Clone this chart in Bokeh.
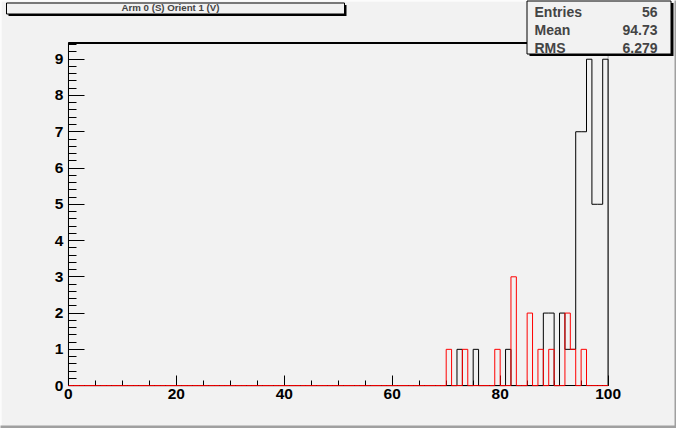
import numpy as np
from bokeh.plotting import figure
from bokeh.models import Range1d, SingleIntervalTicker, Label, BoxAnnotation
from bokeh.embed import file_html
from bokeh.resources import INLINE

# ---------------- data ----------------
title_text = "Arm 0 (S) Orient 1 (V)"
black_bins = [72, 75, 81, 88, 89, 91, 92, 93, 94, 95, 96, 97, 98, 99]
black_counts = [1, 1, 1, 2, 2, 2, 1, 1, 7, 7, 9, 5, 5, 9]
red_bins = [70, 73, 79, 82, 85, 87, 89, 92, 93, 95]
red_counts = [1, 1, 1, 3, 2, 1, 1, 2, 1, 1]
stat_names = ["Entries", "Mean", "RMS"]
stat_values = ["56", "94.73", "6.279"]
x_lo, x_hi, n_bins = 0, 100, 100
y_max = 9.45

# ---------------- layout (pixels) ----------------
BG = "#f2f2f2"
FONT = "Liberation Sans"
W, H = 676, 428
FRAME_L, FRAME_R = 67.9, 607.6     # pixel of x_lo / x_hi
FRAME_T, FRAME_B = 42.4, 385.1     # pixel of y_max / 0

dx = (x_hi - x_lo) / (FRAME_R - FRAME_L)
dy = y_max / (FRAME_B - FRAME_T)
xr = Range1d(x_lo - FRAME_L * dx, x_hi + (W - FRAME_R) * dx)
yr = Range1d(0 - (H - FRAME_B) * dy, y_max + FRAME_T * dy)


def X(px):
    return xr.start + px * dx


def Y(py):
    return yr.end - py * dy


edges = np.linspace(x_lo, x_hi, n_bins + 1)
bin_w = (x_hi - x_lo) / n_bins


def outline(bins, counts):
    h = np.zeros(n_bins + 1)
    for b, c in zip(bins, counts):
        h[int(round((b - x_lo) / bin_w))] = c
    return edges, h


p = figure(width=W, height=H, x_range=xr, y_range=yr,
           output_backend="svg", toolbar_location=None, min_border=0,
           background_fill_color=BG, border_fill_color=BG,
           outline_line_color=None)
p.grid.visible = False
p.title.visible = False

p.xaxis.ticker = SingleIntervalTicker(interval=20, num_minor_ticks=4)
p.yaxis.ticker = SingleIntervalTicker(interval=1, num_minor_ticks=5)
p.xaxis.fixed_location = 0
p.yaxis.fixed_location = x_lo
p.xaxis.bounds = (x_lo, x_hi)
p.yaxis.bounds = (0, y_max)
for ax in (p.xaxis[0], p.yaxis[0]):
    ax.major_tick_out = 0
    ax.minor_tick_out = 0
    ax.axis_line_color = "black"
    ax.major_tick_line_color = "black"
    ax.minor_tick_line_color = "black"
    ax.major_label_text_font = FONT
    ax.major_label_text_font_style = "bold"
    ax.major_label_text_font_size = "15.5px"
    ax.major_label_text_color = "black"
p.xaxis.major_tick_in = 10
p.xaxis.minor_tick_in = 5
p.yaxis.major_tick_in = 16
p.yaxis.minor_tick_in = 8
p.xaxis.major_label_standoff = 3
p.yaxis.major_label_standoff = 5

# ROOT frame
p.add_layout(BoxAnnotation(left=x_lo, right=x_hi, bottom=0, top=y_max,
                           fill_alpha=0, line_color="black", line_width=1, level="underlay"))
p.segment(x0=[x_lo], y0=[y_max], x1=[x_hi], y1=[y_max], line_color="black",
          line_width=2, level="underlay")

bx, by = outline(black_bins, black_counts)
rx, ry = outline(red_bins, red_counts)
p.step(bx, by, mode="after", line_color="black", line_width=1)
p.step(rx, ry, mode="after", line_color="red", line_width=1, level="annotation")


def pbox(l, t, r, b, fill, line=None):
    p.quad(left=[X(l)], right=[X(r)], top=[Y(t)], bottom=[Y(b)],
           fill_color=fill, fill_alpha=1,
           line_color=line, line_alpha=1 if line else 0, line_width=1,
           level="annotation")


def plabel(px, py, text, size, align, baseline):
    p.add_layout(Label(x=X(px), y=Y(py), text=text,
                       text_font=FONT, text_font_style="bold", text_font_size=size,
                       text_align=align, text_baseline=baseline, level="annotation"))


# canvas bevel
pbox(0, 0, W, 1, "white")
pbox(0, 0, 1, H, "white")
pbox(W - 2, 0, W, H, "#a0a0a0")
pbox(0, H - 3, W, H, "#a0a0a0")

# title box
pbox(8, 4.5, 346, 15.5, "black")
pbox(6, 2.5, 344, 13.5, BG, "black")
plabel(170, 7.2, title_text, "9.7px", "center", "middle")

# stats box
pbox(529, 2.5, 673, 55.5, "black")
pbox(526.5, 0.5, 670.5, 53.5, BG, "black")
rows_y = [11.6, 29.6, 47.4]
for name, val, yy in zip(stat_names, stat_values, rows_y):
    plabel(534, yy, name, "14px", "left", "alphabetic")
    plabel(657, yy, val, "14px", "right", "alphabetic")

open("out.html", "w").write(file_html(p, INLINE))
